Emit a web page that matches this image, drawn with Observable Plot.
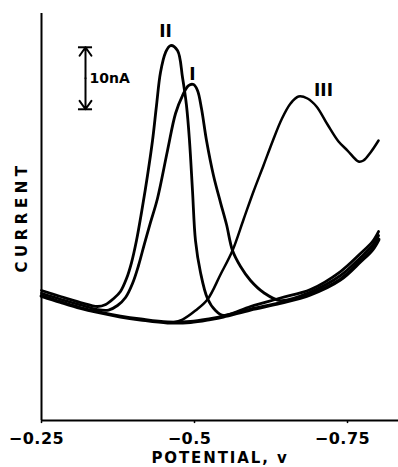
<!DOCTYPE html>
<html>
<head>
<meta charset="utf-8">
<script src="https://cdn.jsdelivr.net/npm/d3@7"></script>
<script src="https://cdn.jsdelivr.net/npm/@observablehq/plot@0.6"></script>
<style>
  html, body { margin: 0; padding: 0; background: #fff; }
  #chart svg { display: block; }
  text[aria-label="xtick"], g[aria-label="xtick"] text { letter-spacing: 0.5px; }
  text[aria-label="xtitle"], g[aria-label="xtitle"] text { letter-spacing: 1.9px; }
  text[aria-label="ytitle"], g[aria-label="ytitle"] text { letter-spacing: 4.5px; }
</style>
</head>
<body>
<div id="chart"></div>
<script>
// Potential (V) vs current (nA)
const baseline = [
  [-0.250, 20.08], [-0.281, 19.11], [-0.3137, 18.15], [-0.3415, 17.50], [-0.379, 16.77],
  [-0.412, 16.29], [-0.456, 15.81], [-0.4935, 15.89], [-0.526, 16.37], [-0.547, 16.77],
  [-0.5915, 17.90], [-0.6405, 18.95], [-0.6895, 20.32], [-0.7386, 22.74], [-0.7712, 25.65],
  [-0.7908, 27.58], [-0.8007, 29.19]
];
const curveI = [
  [-0.250, 20.52], [-0.281, 19.56], [-0.3137, 18.63], [-0.3415, 17.90], [-0.3595, 17.82],
  [-0.3742, 18.55], [-0.3873, 19.84], [-0.3987, 22.10], [-0.4085, 25.0], [-0.4183, 28.55],
  [-0.4281, 31.94], [-0.4395, 35.81], [-0.4559, 43.55], [-0.4690, 49.52], [-0.4804, 52.42],
  [-0.4902, 54.03], [-0.4984, 54.19], [-0.5049, 53.23], [-0.5114, 50.32], [-0.5196, 45.16],
  [-0.5310, 39.52], [-0.5425, 35.16], [-0.5523, 31.61], [-0.5621, 27.42], [-0.5752, 24.84],
  [-0.5915, 22.58], [-0.6127, 20.65], [-0.6405, 19.35], [-0.6895, 20.73], [-0.7386, 23.39],
  [-0.7712, 26.29], [-0.7908, 28.23], [-0.8007, 29.84]
];
const curveII = [
  [-0.250, 20.97], [-0.281, 20.0], [-0.3137, 19.03], [-0.3415, 18.39], [-0.355, 18.71],
  [-0.368, 19.68], [-0.379, 20.81], [-0.3889, 22.90], [-0.3971, 25.48], [-0.4052, 29.03],
  [-0.4134, 33.55], [-0.4232, 39.52], [-0.4314, 45.16], [-0.4379, 50.81], [-0.4444, 56.13],
  [-0.4526, 59.35], [-0.4608, 60.48], [-0.4722, 59.68], [-0.4804, 55.32], [-0.4869, 50.81],
  [-0.4918, 45.16], [-0.4967, 37.10], [-0.5016, 29.03], [-0.5098, 23.87], [-0.5212, 19.68],
  [-0.5343, 17.74], [-0.5474, 16.94], [-0.5915, 18.39], [-0.6405, 19.76], [-0.6895, 21.13],
  [-0.7386, 24.03], [-0.7712, 26.94], [-0.7908, 28.87], [-0.8007, 30.48]
];
const curveIII = [
  [-0.4641, 15.81], [-0.4804, 16.29], [-0.5016, 17.74], [-0.5212, 19.52], [-0.5425, 23.55],
  [-0.5621, 27.42], [-0.5801, 32.42], [-0.5964, 36.94], [-0.6127, 41.13], [-0.6275, 45.0],
  [-0.6422, 48.55], [-0.6569, 51.13], [-0.6699, 52.26], [-0.6846, 51.94], [-0.6993, 50.65],
  [-0.7173, 47.74], [-0.7353, 45.0], [-0.750, 43.55], [-0.768, 41.77], [-0.7761, 41.94],
  [-0.7876, 43.23], [-0.8007, 45.16]
];
const peakLabels = [
  {x: -0.4526, y: 62.7, text: "II"},
  {x: -0.4967, y: 55.8, text: "I"},
  {x: -0.7108, y: 53.2, text: "III"}
];
const xTicks = [-0.25, -0.5, -0.75];
const scaleBar = {x: -0.3219, lo: 50.2, hi: 60.2, label: "10nA"};
const xTitle = "POTENTIAL, v";
const yTitle = "CURRENT";

const font = "DejaVu Sans, Liberation Sans, Arial, sans-serif";
const mid = (scaleBar.lo + scaleBar.hi) / 2;
const lineOpts = {x: d => d[0], y: d => d[1], curve: "catmull-rom", stroke: "black", strokeWidth: 2.8};

const chart = Plot.plot({
  width: 398,
  height: 467,
  marginLeft: 41,
  marginRight: 0,
  marginTop: 13,
  marginBottom: 47,
  style: {fontFamily: font, fontSize: "16px", fontWeight: "bold", background: "white", color: "black"},
  x: {domain: [-0.25, -0.8333], axis: null},
  y: {domain: [0, 65.65], axis: null},
  marks: [
    Plot.ruleX([-0.25], {stroke: "black", strokeWidth: 2}),
    Plot.ruleY([0], {stroke: "black", strokeWidth: 2}),
    Plot.ruleX(xTicks, {x: d => d, y1: () => 0, y2: () => -0.5, stroke: "black", strokeWidth: 1.5}),
    Plot.text(xTicks, {x: d => d, text: d => "\u2212" + String(Math.abs(d)), frameAnchor: "bottom",
      lineAnchor: "top", dy: 12, dx: -5, fontSize: 16, fontWeight: "bold", fill: "black", ariaLabel: () => "xtick"}),
    Plot.line(baseline, {...lineOpts, strokeWidth: 3.8}),
    Plot.line(curveI, lineOpts),
    Plot.line(curveII, lineOpts),
    Plot.line(curveIII, {...lineOpts, strokeWidth: 2.5}),
    Plot.text(peakLabels, {x: "x", y: "y", text: "text", fontSize: 17, fontWeight: "bold", fill: "black"}),
    // scale bar
    Plot.arrow([scaleBar], {x1: d => d.x, x2: d => d.x, y1: () => mid, y2: d => d.hi, stroke: "black", strokeWidth: 2, headLength: 9, headAngle: 70}),
    Plot.arrow([scaleBar], {x1: d => d.x, x2: d => d.x, y1: () => mid, y2: d => d.lo, stroke: "black", strokeWidth: 2, headLength: 9, headAngle: 70}),
    Plot.ruleY([scaleBar.hi, scaleBar.lo], {y: d => d, x1: () => scaleBar.x + 0.0115, x2: () => scaleBar.x - 0.0115, stroke: "black", strokeWidth: 2}),
    Plot.text([scaleBar], {x: d => d.x - 0.0065, y: () => mid, text: "label", textAnchor: "start", fontSize: 14, fontWeight: "bold", fill: "black"}),
    // axis titles
    Plot.text([xTitle], {text: d => d, frameAnchor: "bottom", lineAnchor: "top", dy: 31.5, fontSize: 15, fontWeight: "bold", fill: "black", ariaLabel: () => "xtitle"}),
    Plot.text([yTitle], {text: d => d, frameAnchor: "left", textAnchor: "middle", rotate: -90, dx: -19, fontSize: 15, fontWeight: "bold", fill: "black", ariaLabel: () => "ytitle"})
  ]
});
document.getElementById("chart").appendChild(chart);
</script>
</body>
</html>
